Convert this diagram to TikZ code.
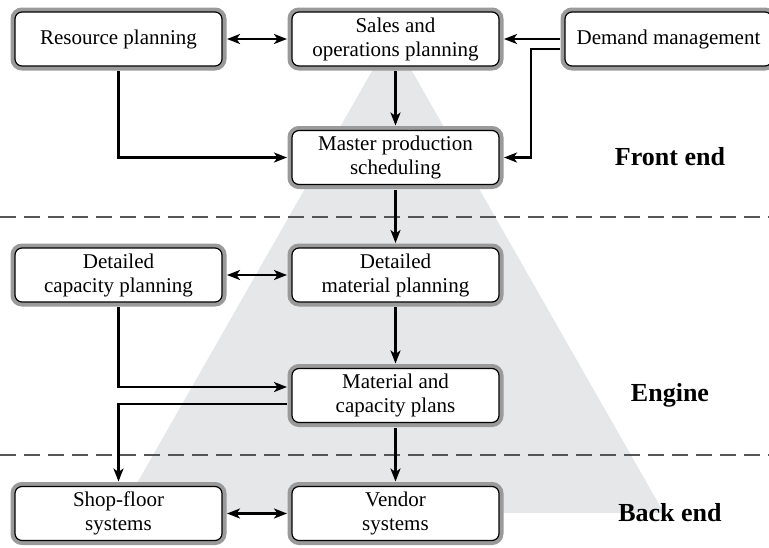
\documentclass[tikz,border=0pt]{standalone}
\usepackage{fontspec}
\setmainfont{Liberation Serif}
\usepackage{tikz}
\usetikzlibrary{arrows.meta}
\definecolor{PGray}{HTML}{9A9A9A}
\definecolor{PShade}{HTML}{E6E7E8}
\definecolor{PDash}{HTML}{555555}

\begin{document}
\begin{tikzpicture}[
  x=1pt,y=-1pt,
  every node/.style={font=\fontsize{21}{24}\selectfont},
  plan/.style={draw=black,line width=1.2pt,fill=white,rounded corners=7pt,
    preaction={draw=PGray,line width=9pt},
    minimum width=207pt,minimum height=54pt,align=center,outer sep=5pt},
  phase/.style={font=\fontsize{26}{28}\selectfont\bfseries},
  arr/.style={-{Stealth[length=13pt,width=10pt,inset=3.5pt]},line width=2.3pt},
  dbl/.style={{Stealth[length=13pt,width=10pt,inset=3.5pt]}-{Stealth[length=13pt,width=10pt,inset=3.5pt]},line width=2.3pt},
  split/.style={dashed,dash pattern=on 16pt off 8pt,line width=1.3pt,color=PDash}
]
  \useasboundingbox (0,0) rectangle (769,547);
  % shaded pyramid behind the boxes
  \fill[PShade] (392,36) -- (664,513) -- (120,513) -- cycle;
  \draw[split] (0,217) -- (769,217);
  \draw[split] (0,455) -- (769,455);

  \node[plan] (res) at (118.5,39) {Resource planning};
  \node[plan] (sop) at (395.5,39) {Sales and\\operations planning};
  \node[plan] (dem) at (668.5,39) {Demand management};
  \node[plan] (mps) at (395.5,157.5) {Master production\\scheduling};
  \node[plan] (dcp) at (118.5,275) {Detailed\\capacity planning};
  \node[plan] (dmp) at (395.5,275) {Detailed\\material planning};
  \node[plan] (mcp) at (395.5,395.5) {Material and\\capacity plans};
  \node[plan] (sfs) at (118.5,513.5) {Shop-floor\\systems};
  \node[plan] (vs) at (395.5,513.5) {Vendor\\systems};

  \node[phase] (front) at (670,157) {Front end};
  \node[phase] (engine) at (670,395) {Engine};
  \node[phase] (back) at (670,513) {Back end};

  \draw[dbl] (res.east) -- (sop.west);
  \draw[arr] (dem.west) -- (sop.east);
  \draw[arr] ([yshift=-10pt]dem.west) -- ++(-29,0) |- (mps.east);
  \draw[arr] (sop.south) -- (mps.north);
  \draw[arr] (res.south) |- (mps.west);
  \draw[arr] (mps.south) -- (dmp.north);
  \draw[dbl] (dcp.east) -- (dmp.west);
  \draw[arr] (dmp.south) -- (mcp.north);
  \draw[arr] (dcp.south) |- ([yshift=8.5pt]mcp.west);
  \draw[arr] ([yshift=-8.5pt]mcp.west) -| (sfs.north);
  \draw[arr] (mcp.south) -- (vs.north);
  \draw[dbl] (sfs.east) -- (vs.west);
\end{tikzpicture}
\end{document}
